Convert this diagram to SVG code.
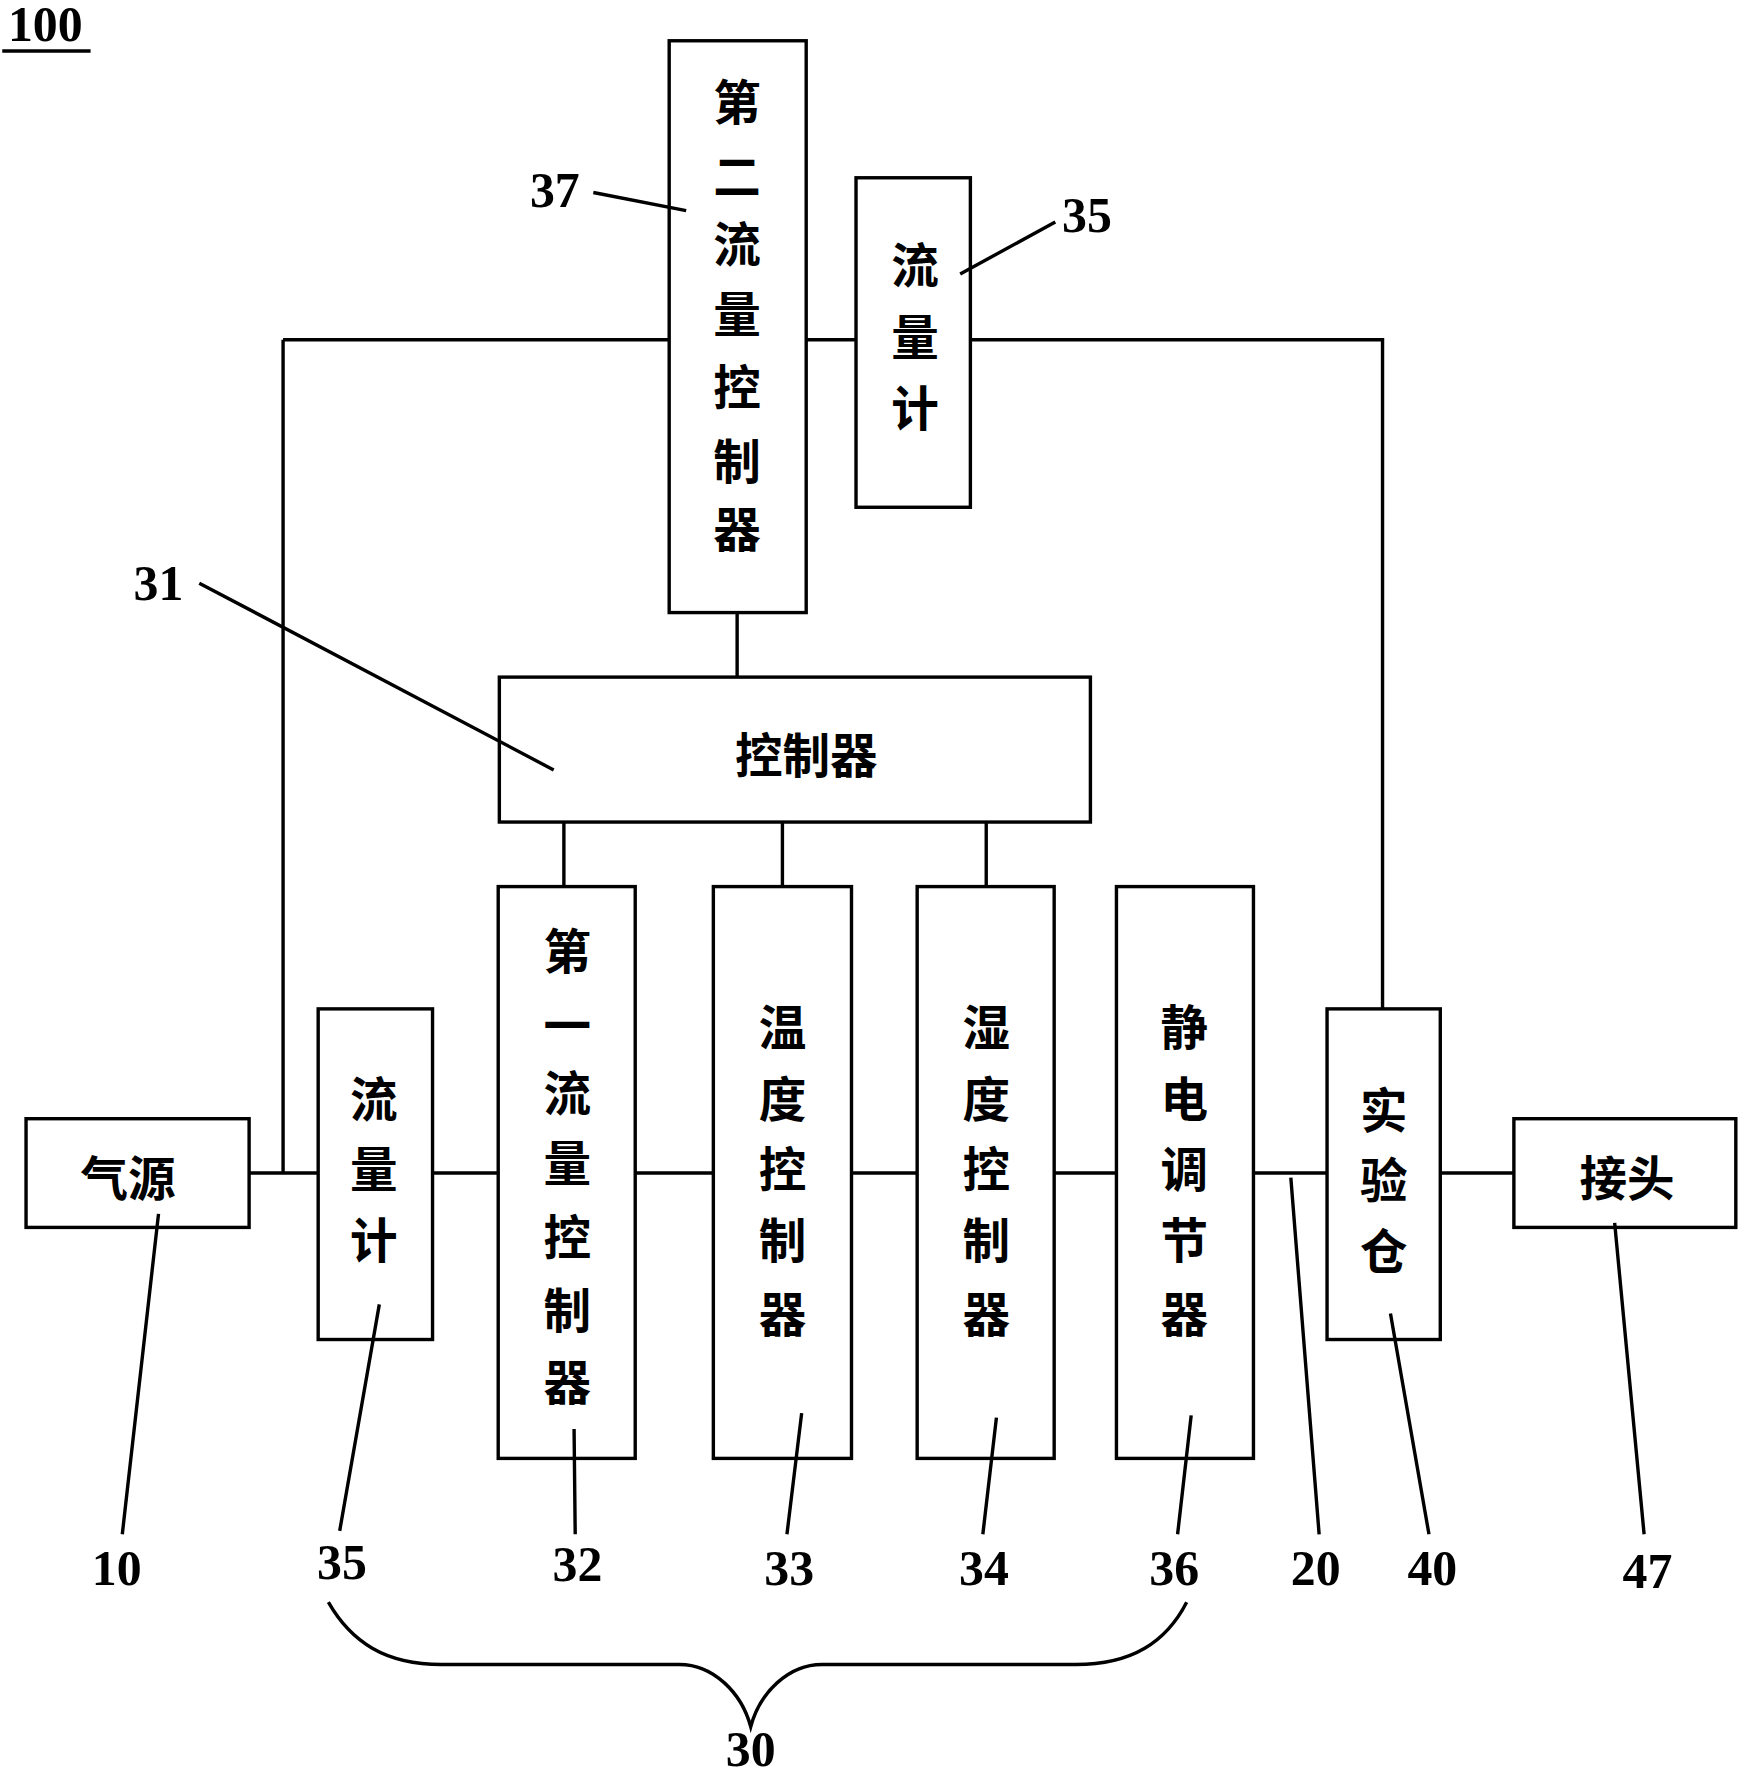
<svg xmlns="http://www.w3.org/2000/svg" width="1738" height="1775" viewBox="0 0 1738 1775">
<style>
.b{fill:#fff;stroke:#000;stroke-width:3}
.l{fill:none;stroke:#000;stroke-width:3}
.c{font-family:"Noto Sans CJK SC",sans-serif;font-size:42px;font-weight:bold;text-anchor:middle;dominant-baseline:central}
.n{font-family:"Liberation Serif",serif;font-size:44px;font-weight:bold;text-anchor:middle;dominant-baseline:central}
</style>
<rect width="1738" height="1775" fill="#fff"/>
<g transform="scale(1.1323)">
<g id="connectors" class="l">
<path d="M250,300H591M712,300H756M857,300H1221V891M250,300V1036"/>
<path d="M651,541V598M498,726V783M691,726V783M871,726V783"/>
<path d="M220,1036H281M382,1036H440M561,1036H630M752,1036H810M931,1036H986M1107,1036H1172M1272,1036H1337"/>
<path d="M290,1415C310,1450 340,1470 390,1470H600C630,1470 655,1495 663,1525C671,1495 696,1470 726,1470H950C1000,1470 1030,1450 1048,1415"/>
<path d="M2,45H80"/>
</g>
<text class="n" x="40" y="22">100</text>
<g id="n37"><rect class="b" x="591" y="36" width="121" height="505"/>
<text class="c" x="651" y="88">第</text><text class="c" x="651" y="153">二</text><text class="c" x="651" y="213">流</text><text class="c" x="651" y="275">量</text><text class="c" x="651" y="340">控</text><text class="c" x="651" y="405">制</text><text class="c" x="651" y="465">器</text></g>
<g id="n35a"><rect class="b" x="756" y="157" width="101" height="291"/>
<text class="c" x="808" y="232">流</text><text class="c" x="808" y="295">量</text><text class="c" x="808" y="358">计</text></g>
<g id="n31"><rect class="b" x="441" y="598" width="522" height="128"/><text class="c" x="712" y="665">控制器</text></g>
<g id="n10"><rect class="b" x="23" y="988" width="197" height="96"/><text class="c" x="113" y="1038">气源</text></g>
<g id="n35b"><rect class="b" x="281" y="891" width="101" height="292"/>
<text class="c" x="330" y="968">流</text><text class="c" x="330" y="1030">量</text><text class="c" x="330" y="1093">计</text></g>
<g id="n32"><rect class="b" x="440" y="783" width="121" height="505"/>
<text class="c" x="501" y="838">第</text><text class="c" x="501" y="903">一</text><text class="c" x="501" y="963">流</text><text class="c" x="501" y="1025">量</text><text class="c" x="501" y="1090">控</text><text class="c" x="501" y="1155">制</text><text class="c" x="501" y="1218">器</text></g>
<g id="n33"><rect class="b" x="630" y="783" width="122" height="505"/>
<text class="c" x="691" y="905">温</text><text class="c" x="691" y="968">度</text><text class="c" x="691" y="1030">控</text><text class="c" x="691" y="1093">制</text><text class="c" x="691" y="1158">器</text></g>
<g id="n34"><rect class="b" x="810" y="783" width="121" height="505"/>
<text class="c" x="871" y="905">湿</text><text class="c" x="871" y="968">度</text><text class="c" x="871" y="1030">控</text><text class="c" x="871" y="1093">制</text><text class="c" x="871" y="1158">器</text></g>
<g id="n36"><rect class="b" x="986" y="783" width="121" height="505"/>
<text class="c" x="1046" y="905">静</text><text class="c" x="1046" y="968">电</text><text class="c" x="1046" y="1030">调</text><text class="c" x="1046" y="1093">节</text><text class="c" x="1046" y="1158">器</text></g>
<g id="n40"><rect class="b" x="1172" y="891" width="100" height="292"/>
<text class="c" x="1222" y="978">实</text><text class="c" x="1222" y="1040">验</text><text class="c" x="1222" y="1103">仓</text></g>
<g id="n47"><rect class="b" x="1337" y="988" width="196" height="96"/><text class="c" x="1437" y="1038">接头</text></g>
<g id="leaders" class="l">
<path d="M524,170L606,186M932,196L848,242M176,515L489,680M140,1072L108,1355M335,1152L300,1352M507,1262L508,1355M708,1248L695,1355M880,1252L868,1355M1052,1250L1040,1355M1140,1040L1165,1355M1228,1160L1262,1355M1426,1080L1452,1355"/>
</g>
<g id="labels">
<text class="n" x="490" y="168">37</text><text class="n" x="960" y="190">35</text><text class="n" x="140" y="515">31</text>
<text class="n" x="103" y="1385">10</text><text class="n" x="302" y="1380">35</text><text class="n" x="510" y="1382">32</text><text class="n" x="697" y="1385">33</text><text class="n" x="869" y="1385">34</text><text class="n" x="1037" y="1385">36</text><text class="n" x="1162" y="1385">20</text><text class="n" x="1265" y="1385">40</text><text class="n" x="1455" y="1388">47</text><text class="n" x="663" y="1545">30</text>
</g>
</g>
</svg>
